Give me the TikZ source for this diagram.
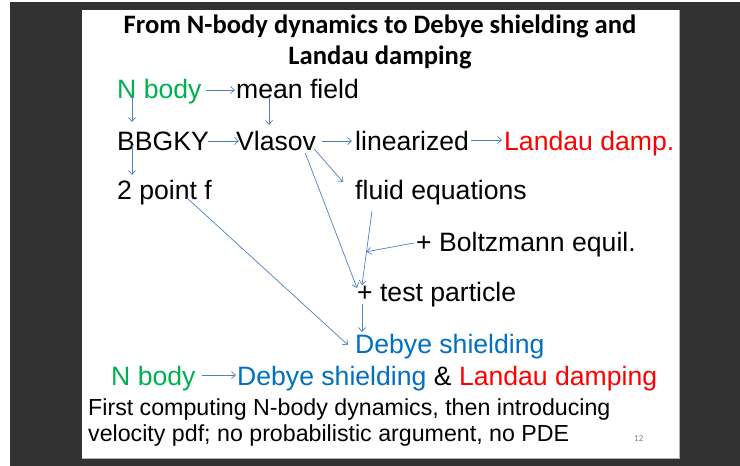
\documentclass[tikz,border=0pt]{standalone}
\usepackage{fontspec}
\setmainfont{Liberation Sans}
\newfontfamily\titlefont{Carlito}
\usetikzlibrary{arrows.meta,calc}
\definecolor{bgdark}{RGB}{50,50,50}
\definecolor{arrowblue}{RGB}{79,129,189}
\definecolor{nbgreen}{RGB}{0,176,80}
\definecolor{dbblue}{RGB}{0,112,192}
\definecolor{ldred}{RGB}{255,0,0}
\tikzset{
  lbl/.style={anchor=base west, inner sep=0pt, font=\fontsize{26.6}{30}\selectfont},
  note/.style={anchor=base west, inner sep=0pt, font=\fontsize{23.2}{27}\selectfont},
  ttl/.style={anchor=base, inner sep=0pt, font=\titlefont\bfseries\fontsize{26.6}{30}\selectfont},
  arr/.style={draw=arrowblue, line width=0.7pt, -{Straight Barb[length=4pt,width=7pt]}}
}
\begin{document}
\begin{tikzpicture}[x=1pt,y=-1pt]
\useasboundingbox (0,0) rectangle (740,466);
\fill[white] (0,0) rectangle (740,466);
\fill[bgdark] (10,2) rectangle (740,466);
\fill[gray!60] (82,10) rectangle (680,459);
\fill[white] (82,10) rectangle (679,458);
% title
\node[ttl] (t1) at (380,33) {From N-body dynamics to Debye shielding and};
\node[ttl] (t2) at (380,64) {Landau damping};
% nodes
\node[lbl, text=nbgreen] (nbody) at (117,98) {N body};
\node[lbl] (mean) at (236,98) {mean field};
\node[lbl] (bbgky) at (117,150) {BBGKY};
\node[lbl] (vlasov) at (236,150) {Vlasov};
\node[lbl] (lin) at (355,150) {linearized};
\node[lbl, text=ldred] (landau) at (504,150) {Landau damp.};
\node[lbl] (twopt) at (117,199) {2 point f};
\node[lbl] (fluid) at (355,199) {fluid equations};
\node[lbl] (boltz) at (416,251) {+ Boltzmann equil.};
\node[lbl] (test) at (357,301) {+ test particle};
\node[lbl, text=dbblue] (debye) at (355,353) {Debye shielding};
\node[lbl, text=nbgreen] (nbody2) at (111,385) {N body};
\node[lbl] (debye2) at (237,385) {\textcolor{dbblue}{Debye shielding} \& \textcolor{ldred}{Landau damping}};
\node[note] (line1) at (88,415) {First computing N-body dynamics, then introducing};
\node[note] (line2) at (88,441) {velocity pdf; no probabilistic argument, no PDE};
\node[anchor=base west, inner sep=0pt, font=\titlefont\fontsize{9}{10}\selectfont, text=gray] (pg) at (634,441) {12};
% connectors
\draw[arr] ([shift={(4,-8)}]nbody.base east) -- ([shift={(-1,-8)}]mean.base west);
\draw[arr] ([shift={(15,-3)}]nbody.base west) -- ([shift={(15,-28)}]bbgky.base west);
\draw[arr] ([shift={(33,-1)}]mean.base west) -- ([shift={(33,-25)}]vlasov.base west);
\draw[arr] ([shift={(-1,-9)}]bbgky.base east) -- ([shift={(3,-9)}]vlasov.base west);
\draw[arr] ([shift={(15,-5)}]bbgky.base west) -- ([shift={(15,-24)}]twopt.base west);
\draw[arr] ([shift={(6,-9)}]vlasov.base east) -- ([shift={(-3,-9)}]lin.base west);
\draw[arr] ([shift={(2,-10)}]lin.base east) -- ([shift={(-2,-10)}]landau.base west);
\draw[arr] ([shift={(-2,-1)}]vlasov.base east) -- ([shift={(-12,-17)}]fluid.base west);
\draw[arr] ([shift={(-11,3)}]vlasov.base east) -- ([shift={(0,-13)}]test.base west);
\coordinate (fa) at ([shift={(17,12)}]fluid.base west);
\coordinate (fb) at ([shift={(5,-16)}]test.base west);
\draw[arr] (fa) -- (fb);
\coordinate (fm) at ($(fa)!0.55!(fb)$);
\draw[arr] ([shift={(-2,-8)}]boltz.base west) -- (fm);
\draw[arr] ([shift={(5,3)}]test.base west) -- ([shift={(7,-21)}]debye.base west);
\draw[arr] ([shift={(70,-1)}]twopt.base west) -- ([shift={(-7,-8)}]debye.base west);
\draw[arr] ([shift={(6,-10)}]nbody2.base east) -- ([shift={(-1,-10)}]debye2.base west);
\end{tikzpicture}
\end{document}
